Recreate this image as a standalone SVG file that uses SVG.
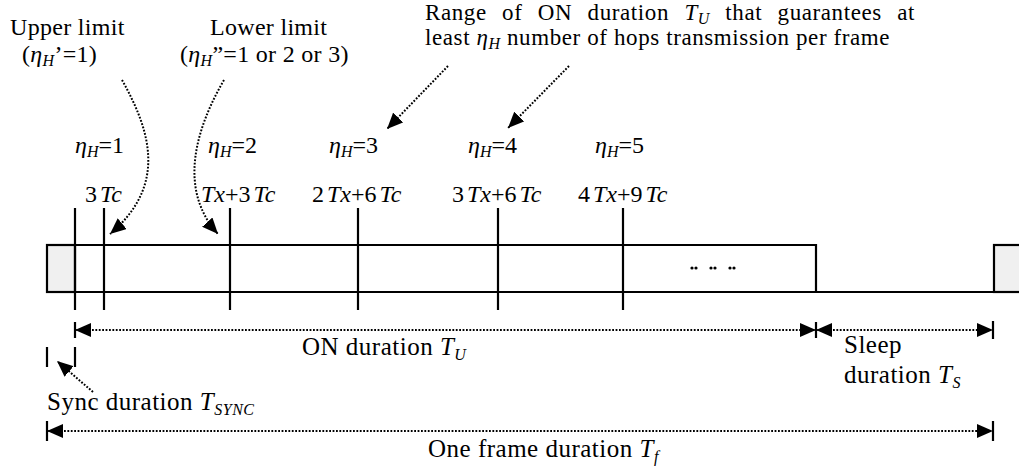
<svg xmlns="http://www.w3.org/2000/svg" width="1019" height="469" viewBox="0 0 1019 469">
  <style>
    text { font-family: "Liberation Serif", "Times New Roman", serif; fill: #000; }
    .lbl { font-size: 24px; letter-spacing: 0.3px; }
    .rng { font-size: 23px; letter-spacing: 0.6px; }
    .num { font-size: 24px; }
    .dim { font-size: 25px; letter-spacing: 0.5px; }
    .it { font-style: italic; }
    .sub { font-style: italic; font-size: 16px; }
    .solid { stroke: #000; stroke-width: 2.2; fill: none; }
    .dot { stroke: #000; stroke-width: 2; fill: none; stroke-dasharray: 1.8 1.6; }
    .dot-arrow { marker-end: url(#head); }
    .dot-both { marker-start: url(#head); marker-end: url(#head); }
    .sync { fill: #f0f0f0; stroke: #000; stroke-width: 2.2; }
  </style>
  <defs>
    <marker id="head" viewBox="0 0 16 14" refX="16" refY="7" markerWidth="16" markerHeight="14" markerUnits="userSpaceOnUse" orient="auto-start-reverse">
      <path d="M0,0 L16,7 L0,14 z" fill="#000"/>
    </marker>
  </defs>

  <rect width="1019" height="469" fill="#fff"/>

  <!-- frame timeline bar -->
  <g id="frame-bar">
    <rect class="sync" x="47" y="245" width="28" height="47"/>
    <rect class="sync" x="994" y="245" width="30" height="47"/>
    <path class="solid" d="M47,245 H816 V292 M47,292 H994"/>
    <g fill="#000">
      <circle cx="692" cy="268" r="1.6"/><circle cx="696" cy="268" r="1.6"/>
      <circle cx="711" cy="268" r="1.6"/><circle cx="715" cy="268" r="1.6"/>
      <circle cx="730" cy="268" r="1.6"/><circle cx="734" cy="268" r="1.6"/>
    </g>
  </g>

  <!-- hop boundary ticks -->
  <g id="ticks">
    <path class="solid" d="M75,208 V310 M104,208 V310 M230,208 V310 M358,208 V310 M498,208 V310 M623,208 V310"/>
  </g>

  <!-- hop counts -->
  <g id="hop-labels" class="num">
    <text x="75" y="153"><tspan class="it">η</tspan><tspan class="sub" dy="4">H</tspan><tspan dy="-4">=1</tspan></text>
    <text x="208" y="153"><tspan class="it">η</tspan><tspan class="sub" dy="4">H</tspan><tspan dy="-4">=2</tspan></text>
    <text x="329" y="153"><tspan class="it">η</tspan><tspan class="sub" dy="4">H</tspan><tspan dy="-4">=3</tspan></text>
    <text x="468" y="153"><tspan class="it">η</tspan><tspan class="sub" dy="4">H</tspan><tspan dy="-4">=4</tspan></text>
    <text x="595" y="153"><tspan class="it">η</tspan><tspan class="sub" dy="4">H</tspan><tspan dy="-4">=5</tspan></text>
  </g>

  <!-- boundary times -->
  <g id="time-labels" class="num">
    <text x="85" y="202">3<tspan class="it" dx="3">Tc</tspan></text>
    <text x="201" y="202"><tspan class="it">Tx</tspan>+3<tspan class="it" dx="3">Tc</tspan></text>
    <text x="312" y="202">2<tspan class="it" dx="3">Tx</tspan>+6<tspan class="it" dx="3">Tc</tspan></text>
    <text x="452" y="202">3<tspan class="it" dx="3">Tx</tspan>+6<tspan class="it" dx="3">Tc</tspan></text>
    <text x="578" y="202">4<tspan class="it" dx="3">Tx</tspan>+9<tspan class="it" dx="3">Tc</tspan></text>
  </g>

  <!-- limit annotations -->
  <g id="upper-limit" class="lbl">
    <text x="10" y="35">Upper limit</text>
    <text x="22" y="62">(<tspan class="it">η</tspan><tspan class="sub" dy="4">H</tspan><tspan dy="-4">’=1)</tspan></text>
  </g>
  <g id="lower-limit" class="lbl">
    <text x="210" y="35">Lower limit</text>
    <text x="180" y="62">(<tspan class="it">η</tspan><tspan class="sub" dy="4">H</tspan><tspan dy="-4">”=1 or 2 or 3)</tspan></text>
  </g>
  <g id="range-note" class="rng">
    <text x="425" y="20" word-spacing="9">Range of ON duration <tspan class="it">T</tspan><tspan class="sub" dy="4">U</tspan><tspan dy="-4"> that guarantees at</tspan></text>
    <text x="425" y="45">least <tspan class="it">η</tspan><tspan class="sub" dy="4">H</tspan><tspan dy="-4"> number of hops transmission per frame</tspan></text>
  </g>

  <!-- duration labels -->
  <g id="on-duration" class="dim">
    <text x="302" y="355">ON duration <tspan class="it">T</tspan><tspan class="sub" font-size="17" dy="5">U</tspan></text>
  </g>
  <g id="sleep-duration" class="dim">
    <text x="844" y="353">Sleep</text>
    <text x="844" y="383">duration <tspan class="it">T</tspan><tspan class="sub" font-size="17" dy="5">S</tspan></text>
  </g>
  <g id="sync-duration" class="dim">
    <text x="47" y="410">Sync duration <tspan class="it">T</tspan><tspan class="sub" font-size="17" dy="5">SYNC</tspan></text>
  </g>
  <g id="frame-duration" class="dim">
    <text x="428" y="457">One frame duration <tspan class="it">T</tspan><tspan class="sub" font-size="17" dy="5">f</tspan></text>
  </g>

  <!-- connectors -->
  <g id="connectors">
    <!-- dimension end ticks -->
    <path class="solid" d="M75,322 V338 M816,322 V338 M993,321 V339 M47,347 V367 M75,347 V367 M47,421 V441 M993,421 V441"/>
    <!-- dimension arrows -->
    <path class="dot dot-both" d="M75,330 H816"/>
    <path class="dot dot-both" d="M816,330 H993"/>
    <path class="dot dot-both" d="M47,431 H993"/>
    <!-- pointers -->
    <path class="dot dot-arrow" d="M93,392 L57,361"/>
    <path class="dot dot-arrow" d="M122,80 C150,130 168,185 110,234"/>
    <path class="dot dot-arrow" d="M224,80 C195,130 178,190 218,234"/>
    <path class="dot dot-arrow" d="M448,66 L387,129"/>
    <path class="dot dot-arrow" d="M569,66 L508,128"/>
  </g>
</svg>
